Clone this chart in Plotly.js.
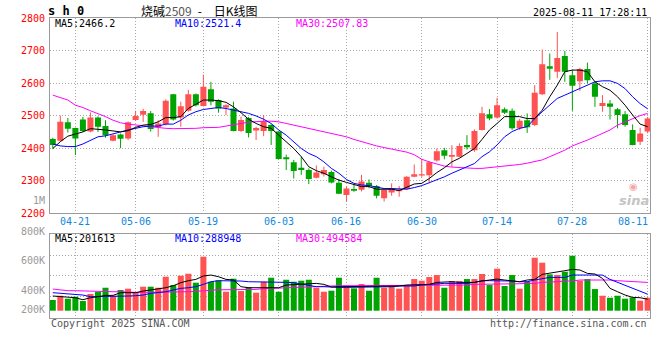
<!DOCTYPE html>
<html>
<head>
<meta charset="utf-8">
<script src="https://cdn.plot.ly/plotly-3.0.1.min.js"></script>
<style>html,body{margin:0;padding:0;background:#fff;}#chart{width:660px;height:360px;}</style>
</head>
<body>
<div id="chart"></div>
<script>
// ---------- data ----------
const dates = ["2025-04-16","2025-04-17","2025-04-18","2025-04-21","2025-04-22","2025-04-23","2025-04-24","2025-04-25","2025-04-28","2025-04-29","2025-04-30","2025-05-06","2025-05-07","2025-05-08","2025-05-09","2025-05-12","2025-05-13","2025-05-14","2025-05-15","2025-05-16","2025-05-19","2025-05-20","2025-05-21","2025-05-22","2025-05-23","2025-05-26","2025-05-27","2025-05-28","2025-05-29","2025-05-30","2025-06-03","2025-06-04","2025-06-05","2025-06-06","2025-06-09","2025-06-10","2025-06-11","2025-06-12","2025-06-13","2025-06-16","2025-06-17","2025-06-18","2025-06-19","2025-06-20","2025-06-23","2025-06-24","2025-06-25","2025-06-26","2025-06-27","2025-06-30","2025-07-01","2025-07-02","2025-07-03","2025-07-04","2025-07-07","2025-07-08","2025-07-09","2025-07-10","2025-07-11","2025-07-14","2025-07-15","2025-07-16","2025-07-17","2025-07-18","2025-07-21","2025-07-22","2025-07-23","2025-07-24","2025-07-25","2025-07-28","2025-07-29","2025-07-30","2025-07-31","2025-08-01","2025-08-04","2025-08-05","2025-08-06","2025-08-07","2025-08-08","2025-08-11"];

const open  = [2428,2423,2480,2462,2488,2451,2494,2468,2423,2442, 2430,2487,2503,2507,2464,2474,2566,2494,2515,2566, 2530,2581,2548,2525,2522,2453,2493,2454,2453,2471, 2451,2372,2357,2340,2333,2309,2320,2327,2294,2256, 2275,2272,2294,2284,2246,2264,2268,2275,2312,2316, 2317,2362,2394,2374,2374,2410,2394,2456,2504,2494, 2520,2515,2461,2486,2471,2566,2652,2635,2683,2624, 2606,2643,2599,2530,2537,2520,2504,2456,2420,2451];
const high  = [2432,2500,2493,2463,2496,2510,2498,2486,2442,2445, 2482,2515,2521,2514,2486,2550,2567,2543,2579,2568, 2626,2604,2550,2535,2543,2497,2496,2466,2502,2474, 2452,2380,2364,2374,2338,2347,2343,2331,2305,2282, 2290,2318,2304,2287,2275,2292,2284,2314,2350,2366, 2360,2399,2401,2409,2415,2440,2458,2527,2520,2555, 2525,2522,2490,2507,2594,2703,2691,2757,2699,2640, 2647,2663,2604,2563,2548,2524,2514,2473,2463,2496];
const low   = [2398,2420,2448,2379,2450,2449,2450,2432,2421,2400, 2425,2485,2481,2451,2435,2470,2485,2466,2512,2528, 2528,2532,2509,2502,2452,2450,2433,2425,2437,2410, 2366,2333,2307,2318,2290,2307,2313,2292,2259,2236, 2266,2267,2277,2246,2236,2254,2251,2273,2311,2312, 2292,2359,2366,2343,2372,2396,2389,2454,2486,2491, 2505,2456,2456,2447,2468,2563,2610,2615,2604,2515, 2576,2599,2527,2512,2488,2461,2466,2409,2410,2446];
const close = [2410,2481,2460,2430,2453,2494,2466,2440,2440,2429, 2480,2499,2514,2459,2476,2546,2488,2529,2566,2532, 2589,2543,2522,2532,2453,2487,2447,2462,2483,2453, 2367,2366,2330,2333,2305,2325,2333,2295,2260,2276, 2269,2298,2284,2254,2272,2277,2273,2312,2320,2320, 2357,2391,2377,2379,2407,2403,2453,2507,2491,2532, 2509,2461,2484,2464,2570,2658,2644,2677,2635,2592, 2643,2609,2558,2539,2527,2502,2471,2410,2445,2491];

const ma5  = [2399,2420,2437,2443,2450,2460,2459,2456,2453,2450, 2454,2464,2471,2473,2481,2494,2494,2497,2522,2535, 2548,2548,2546,2541,2527,2509,2489,2476,2466,2461, 2440,2420,2399,2374,2343,2331,2323,2312,2302,2295, 2289,2282,2282,2274,2274,2274,2270,2279,2290,2292, 2307,2325,2340,2358,2369,2384,2399,2427,2456,2476, 2497,2497,2497,2491,2491,2517,2558,2594,2635,2640, 2640,2635,2604,2589,2578,2558,2532,2502,2474,2466];
const ma10 = [2413,2407,2405,2405,2413,2425,2435,2438,2445,2450, 2456,2461,2466,2468,2468,2474,2474,2486,2502,2512, 2519,2522,2525,2522,2517,2512,2507,2499,2489,2476, 2456,2440,2420,2399,2384,2374,2358,2338,2323,2304, 2292,2287,2285,2280,2276,2276,2275,2274,2279,2285, 2294,2302,2312,2323,2333,2343,2353,2374,2389,2410, 2435,2451,2461,2466,2491,2512,2532,2553,2563,2573, 2583,2594,2604,2607,2607,2599,2583,2558,2537,2521];
const ma30 = [2563,2556,2548,2532,2525,2515,2507,2497,2486,2478, 2474,2471,2468,2466,2464,2461,2460,2460,2460,2461, 2463,2464,2464,2468,2471,2476,2480,2482,2483,2483, 2481,2476,2471,2466,2461,2456,2451,2445,2440,2435, 2427,2420,2413,2407,2402,2397,2393,2388,2380,2366, 2358,2352,2345,2342,2340,2338,2338,2338,2340,2342, 2344,2347,2350,2354,2358,2364,2374,2384,2394,2407, 2415,2425,2435,2445,2456,2471,2481,2489,2500,2507];

// volume, in thousands of lots
const volK = [187,262,210,245,169,292,332,402,262,362, 385,315,420,420,402,595,449,612,647,490, 945,507,531,332,560,344,414,315,507,577, 332,542,507,525,542,402,332,350,577,437, 391,467,350,577,402,449,385,432,554,525, 589,624,402,519,519,554,554,642,449,735, 432,624,385,507,927,840,636,624,682,962, 525,554,379,262,227,262,210,233,175,227];
const vma5K  = [257,245,233,227,192,227,245,268,268,315, 315,315,344,362,373,402,437,490,525,548, 607,624,595,548,537,420,402,402,391,391, 402,449,455,461,467,478,461,414,420,420, 420,432,432,432,420,420,432,449,449,461, 461,496,507,507,496,496,496,519,537,554, 537,519,507,537,548,636,653,682,700,723, 712,653,642,566,391,332,274,233,227,202];
const vma10K = [315,303,297,286,274,245,245,251,257,251, 257,262,274,303,315,332,362,391,402,420, 461,507,525,525,519,519,507,507,507,507, 496,496,490,467,432,420,420,408,408,408, 408,408,408,408,408,420,432,432,432,449, 461,461,478,478,478,478,496,525,525,525, 525,519,507,507,537,566,583,583,583,624, 624,624,624,624,548,496,449,391,344,289];
const vma30K = [379,362,350,350,344,344,332,332,332,332, 321,321,321,321,321,332,332,332,332,338, 350,362,367,367,367,373,373,373,385,391, 391,402,408,414,420,420,420,426,437,437, 437,437,437,437,437,437,437,437,437,437, 437,449,449,449,449,449,461,461,461,461, 461,461,472,478,478,496,496,507,519,519, 537,537,548,548,537,525,519,507,496,495];

const tickDates  = ["2025-04-21","2025-05-06","2025-05-19","2025-06-03","2025-06-16","2025-06-30","2025-07-14","2025-07-28","2025-08-11"];
const tickLabels = ["04-21","05-06","05-19","06-03","06-16","06-30","07-14","07-28","08-11"];
const priceTicks = [2200,2300,2400,2500,2600,2700,2800];
const volLabels  = ["1M","800K","600K","400K","200K"];
const priceLegend = ["MA5:2466.2","MA10:2521.4","MA30:2507.83"];
const volLegend   = ["MA5:201613","MA10:288948","MA30:494584"];

// ---------- styling ----------
const RED = "#FF5252", GREEN = "#00A400";
const MONO = "DejaVu Sans Mono";
const GRID = "#a8a8a8", BORDER = "#9a9a9a";

// ---------- traces ----------
const up = close.map((c,i)=> c >= open[i]);
const colors = up.map(u => u ? RED : GREEN);

const wUx=[],wUy=[],wDx=[],wDy=[];
dates.forEach((d,i)=>{
  if(up[i]){ wUx.push(d,d,null); wUy.push(low[i],high[i],null); }
  else     { wDx.push(d,d,null); wDy.push(low[i],high[i],null); }
});

const traces = [
  {type:"bar",x:dates,base:open.map((o,i)=>Math.min(o,close[i])),
   y:open.map((o,i)=>Math.max(Math.abs(close[i]-o),4)),
   width:0.8,marker:{color:colors,line:{width:0}},xaxis:"x",yaxis:"y",hoverinfo:"skip"},
  {type:"scatter",mode:"lines",x:wUx,y:wUy,line:{color:RED,width:1},xaxis:"x",yaxis:"y",connectgaps:false,hoverinfo:"skip"},
  {type:"scatter",mode:"lines",x:wDx,y:wDy,line:{color:GREEN,width:1},xaxis:"x",yaxis:"y",connectgaps:false,hoverinfo:"skip"},
  {type:"scatter",mode:"lines",x:dates,y:ma30,line:{color:"#FF00FF",width:1},xaxis:"x",yaxis:"y"},
  {type:"scatter",mode:"lines",x:dates,y:ma10,line:{color:"#0000FF",width:1},xaxis:"x",yaxis:"y"},
  {type:"scatter",mode:"lines",x:dates,y:ma5,line:{color:"#000000",width:1},xaxis:"x",yaxis:"y"},

  {type:"bar",x:dates,y:volK.map(v=>v*1000),width:0.8,marker:{color:colors,line:{width:0}},xaxis:"x2",yaxis:"y2"},
  {type:"scatter",mode:"lines",x:dates,y:vma30K.map(v=>v*1000),line:{color:"#FF00FF",width:1},xaxis:"x2",yaxis:"y2"},
  {type:"scatter",mode:"lines",x:dates,y:vma10K.map(v=>v*1000),line:{color:"#0000FF",width:1},xaxis:"x2",yaxis:"y2"},
  {type:"scatter",mode:"lines",x:dates,y:vma5K.map(v=>v*1000),line:{color:"#000000",width:1},xaxis:"x2",yaxis:"y2"}
];

// ---------- layout ----------
const M = {l:50,r:10,t:18,b:42};
const H = 360 - M.t - M.b, W = 660 - M.l - M.r;
const py = y => (360 - M.b - y) / H;   // pixel -> paper y
const px = x => (x - M.l) / W;         // pixel -> paper x

const xCommon = {
  type:"category", categoryorder:"array", categoryarray:dates,
  range:[-0.37,79.31], tickvals:tickDates, showticklabels:false,
  showgrid:true, gridcolor:GRID, griddash:"1px,2px", gridwidth:1,
  showline:true, mirror:true, linecolor:BORDER, linewidth:1, ticks:"", zeroline:false, fixedrange:true
};

const annotations = [];
// date labels
tickDates.forEach((d,i)=>{
  const last = i === tickDates.length-1;
  annotations.push({xref:"x",yref:"paper",x:d,y:py(222),text:tickLabels[i],showarrow:false,
    xanchor:last?"right":"center",yanchor:"middle",xshift:last?2:0,font:{family:MONO,size:10,color:"#1188DD"}});
});
// volume axis labels
[200.7,231.7,260.7,290,309].forEach((y,i)=>{
  annotations.push({xref:"paper",yref:"paper",x:0,y:py(y),xshift:-3,text:volLabels[i],showarrow:false,
    xanchor:"right",yanchor:"middle",font:{family:MONO,size:10,color:"#999999"}});
});
// legends
const legCol = ["#000000","#0000FF","#FF00FF"];
[53,173,294].forEach((x,i)=>{
  annotations.push({xref:"paper",yref:"paper",x:px(x),y:py(23.7),text:priceLegend[i],showarrow:false,
    xanchor:"left",yanchor:"middle",font:{family:MONO,size:10,color:legCol[i]}});
  annotations.push({xref:"paper",yref:"paper",x:px(x),y:py(238.5),text:volLegend[i],showarrow:false,
    xanchor:"left",yanchor:"middle",font:{family:MONO,size:10,color:legCol[i]}});
});
// titles
annotations.push({xref:"paper",yref:"paper",x:px(46),y:py(11),text:"<b>s h 0</b>",showarrow:false,
  xanchor:"left",yanchor:"middle",font:{family:MONO,size:12,color:"#000"}});
annotations.push({xref:"paper",yref:"paper",x:px(139),y:py(10.5),
  text:"烧碱<span style='color:#555'>2509</span>\u2002-\u2003日K线图",showarrow:false,
  xanchor:"left",yanchor:"middle",font:{family:"Noto Sans CJK SC",size:12,color:"#000"}});
annotations.push({xref:"paper",yref:"paper",x:px(649),y:py(12.5),text:"2025-08-11 17:28:11",showarrow:false,
  xanchor:"right",yanchor:"middle",font:{family:MONO,size:10,color:"#000"}});
annotations.push({xref:"paper",yref:"paper",x:px(49),y:py(323.5),text:"Copyright 2025 SINA.COM",showarrow:false,
  xanchor:"left",yanchor:"middle",font:{family:MONO,size:10,color:"#555"}});
annotations.push({xref:"paper",yref:"paper",x:px(649),y:py(323.5),text:"http://finance.sina.com.cn",showarrow:false,
  xanchor:"right",yanchor:"middle",font:{family:MONO,size:10,color:"#555"}});
// sina watermark
annotations.push({xref:"paper",yref:"paper",x:px(633),y:py(186),text:"◉",showarrow:false,
  xanchor:"center",yanchor:"middle",font:{family:"DejaVu Sans",size:10,color:"#f3a9a9"}});
annotations.push({xref:"paper",yref:"paper",x:px(634),y:py(200),text:"<b><i>sina</i></b>",showarrow:false,
  xanchor:"center",yanchor:"middle",font:{family:"DejaVu Sans",size:13,color:"#c4c4c4"}});

const layout = {
  width:660,height:360,margin:M,paper_bgcolor:"#fff",plot_bgcolor:"#fff",
  showlegend:false,hovermode:false,barmode:"overlay",
  xaxis:Object.assign({},xCommon,{anchor:"y"}),
  xaxis2:Object.assign({},xCommon,{anchor:"y2",matches:"x"}),
  yaxis:{domain:[py(213.3),1],range:[2200,2800],tickvals:priceTicks,ticktext:priceTicks.map(String),
    tickfont:{family:MONO,size:10,color:"#FF0000"},ticks:"",ticklabelstandoff:2,
    showgrid:true,gridcolor:GRID,griddash:"1px,2px",gridwidth:1,
    showline:true,mirror:true,linecolor:BORDER,linewidth:1,zeroline:false,fixedrange:true},
  yaxis2:{domain:[0,py(234.3)],range:[-127750,1337000],tickvals:[248500,619500,969500],showticklabels:false,ticks:"",
    showgrid:true,gridcolor:GRID,griddash:"1px,2px",gridwidth:1,
    showline:true,mirror:true,linecolor:BORDER,linewidth:1,zeroline:false,fixedrange:true},
  annotations:annotations
};

Plotly.newPlot("chart",traces,layout,{staticPlot:true,displayModeBar:false});
</script>
</body>
</html>
